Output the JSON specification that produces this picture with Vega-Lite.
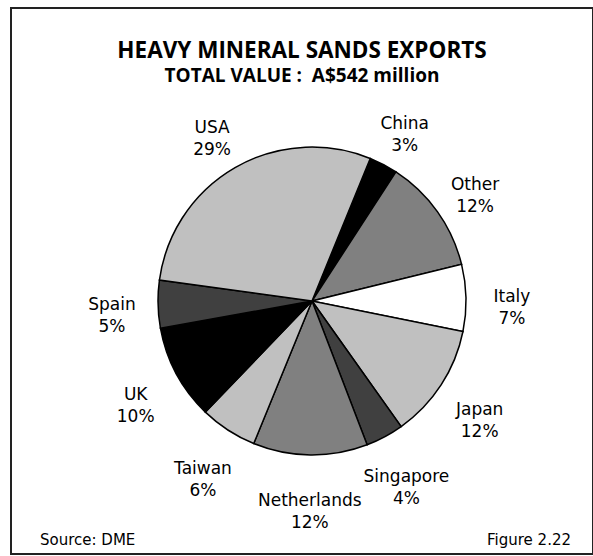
{
  "$schema": "https://vega.github.io/schema/vega-lite/v6.json",
  "width": 593,
  "height": 556,
  "autosize": {"type": "fit", "contains": "padding"},
  "padding": {"left": 11, "top": 8, "right": 0, "bottom": 2},
  "background": "white",
  "view": {"stroke": "#222222", "strokeWidth": 2},
  "title": {
    "text": "HEAVY MINERAL SANDS EXPORTS",
    "subtitle": "TOTAL VALUE\u00a0:\u00a0\u00a0A$542 million",
    "anchor": "middle",
    "frame": "group",
    "offset": -78,
    "font": "Open Sans",
    "fontSize": 22.5,
    "fontWeight": "bold",
    "color": "black",
    "subtitleFont": "Open Sans",
    "subtitleFontSize": 19,
    "subtitleFontWeight": "bold",
    "subtitleColor": "black",
    "subtitlePadding": 5
  },
  "datasets": {
    "slices": [
      {"order": 1, "country": "China", "pct": 3},
      {"order": 2, "country": "Other", "pct": 12},
      {"order": 3, "country": "Italy", "pct": 7},
      {"order": 4, "country": "Japan", "pct": 12},
      {"order": 5, "country": "Singapore", "pct": 4},
      {"order": 6, "country": "Netherlands", "pct": 12},
      {"order": 7, "country": "Taiwan", "pct": 6},
      {"order": 8, "country": "UK", "pct": 10},
      {"order": 9, "country": "Spain", "pct": 5},
      {"order": 10, "country": "USA", "pct": 29}
    ],
    "source": [{"t": "Source: DME"}],
    "figure": [{"t": "Figure 2.22"}]
  },
  "layer": [
    {
      "data": {"name": "slices"},
      "mark": {"type": "arc", "outerRadius": 154, "stroke": "black", "strokeWidth": 1.5, "xOffset": 10, "yOffset": 20},
      "encoding": {
        "theta": {"field": "pct", "type": "quantitative", "stack": true, "scale": {"range": [0.388, 6.671]}},
        "order": {"field": "order", "type": "quantitative"},
        "color": {
          "field": "country",
          "type": "nominal",
          "scale": {
            "domain": ["China", "Other", "Italy", "Japan", "Singapore", "Netherlands", "Taiwan", "UK", "Spain", "USA"],
            "range": ["#000000", "#808080", "#ffffff", "#c0c0c0", "#404040", "#808080", "#c0c0c0", "#000000", "#404040", "#c0c0c0"]
          },
          "legend": null
        }
      }
    },
    {
      "data": {"name": "slices"},
      "transform": [{"calculate": "datum.country + '\\n' + datum.pct + '%'", "as": "label"}],
      "mark": {"type": "text", "radius": 200, "xOffset": 10, "yOffset": 20, "lineBreak": "\n", "font": "DejaVu Sans", "fontSize": 17, "lineHeight": 22, "align": "center", "baseline": "middle", "color": "black"},
      "encoding": {
        "theta": {"field": "pct", "type": "quantitative", "stack": true},
        "order": {"field": "order", "type": "quantitative"},
        "text": {"field": "label"}
      }
    },
    {
      "data": {"name": "source"},
      "mark": {"type": "text", "align": "left", "baseline": "alphabetic", "font": "DejaVu Sans", "fontSize": 15, "color": "black", "dx": 29, "dy": -9},
      "encoding": {
        "x": {"value": 0},
        "y": {"value": "height"},
        "text": {"field": "t"}
      }
    },
    {
      "data": {"name": "figure"},
      "mark": {"type": "text", "align": "right", "baseline": "alphabetic", "font": "DejaVu Sans", "fontSize": 15, "color": "black", "dx": -22, "dy": -9},
      "encoding": {
        "x": {"value": "width"},
        "y": {"value": "height"},
        "text": {"field": "t"}
      }
    }
  ]
}
